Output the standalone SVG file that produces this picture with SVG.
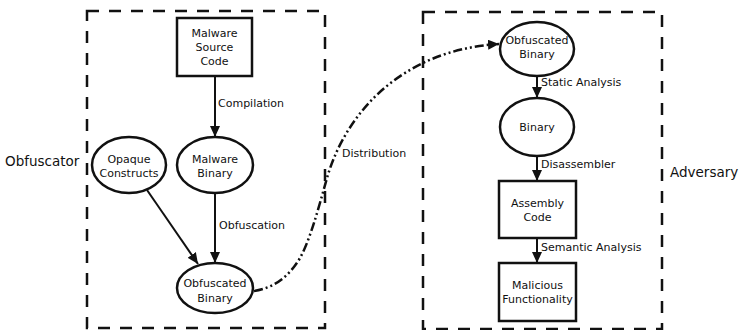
<svg xmlns="http://www.w3.org/2000/svg" width="739" height="330" viewBox="0 0 739 330">
<style>
text{font-family:"DejaVu Sans","Liberation Sans",sans-serif;font-size:11px;fill:#111}
.big{font-size:13.5px}
.mid{text-anchor:middle}
.node{fill:#fff;stroke:#111;stroke-width:2.5}
.frame{fill:none;stroke:#111;stroke-width:2.5;stroke-dasharray:12,10}
.edge{fill:none;stroke:#111;stroke-width:2;marker-end:url(#ah)}
.dist{fill:none;stroke:#111;stroke-width:2.5;stroke-dasharray:9,3,2,3,2,3;marker-end:url(#ah)}
</style>
<defs>
<marker id="ah" markerUnits="userSpaceOnUse" markerWidth="12" markerHeight="10" refX="11" refY="5" orient="auto">
<path d="M0,0 L11,5 L0,10 Z" fill="#111"/>
</marker>
</defs>
<g id="obfuscator-frame">
<rect class="frame" x="87" y="11" width="238" height="317"/>
<text class="big" x="5" y="166">Obfuscator</text>
</g>
<g id="adversary-frame">
<rect class="frame" x="423" y="12" width="239" height="317"/>
<text class="big" x="670" y="177">Adversary</text>
</g>
<g id="connectors">
<path class="edge" d="M215,77 L215,137"/>
<text x="218" y="107">Compilation</text>
<path class="edge" d="M215,194 L215,263"/>
<text x="219" y="229">Obfuscation</text>
<path class="edge" d="M147,190 L198,264"/>
<path class="dist" d="M254,291 C275,288 290,275 300,258 C310,240 318,210 327,178 C345,115 400,50 499,44"/>
<text x="342" y="157">Distribution</text>
<path class="edge" d="M537,77 L537,98"/>
<text x="541" y="86">Static Analysis</text>
<path class="edge" d="M537,157 L537,181"/>
<text x="541" y="168">Disassembler</text>
<path class="edge" d="M537,238 L537,263"/>
<text x="541" y="251">Semantic Analysis</text>
</g>
<g id="malware-source-code">
<rect class="node" x="177" y="18" width="75" height="58"/>
<text class="mid" x="214.5" y="37">Malware</text>
<text class="mid" x="214.5" y="51">Source</text>
<text class="mid" x="214.5" y="65">Code</text>
</g>
<g id="opaque-constructs">
<ellipse class="node" cx="129" cy="165" rx="37" ry="28"/>
<text class="mid" x="129" y="163">Opaque</text>
<text class="mid" x="129" y="177">Constructs</text>
</g>
<g id="malware-binary">
<ellipse class="node" cx="215" cy="165" rx="38" ry="28"/>
<text class="mid" x="215" y="163">Malware</text>
<text class="mid" x="215" y="177">Binary</text>
</g>
<g id="obfuscated-binary-left">
<ellipse class="node" cx="215" cy="288" rx="38" ry="25"/>
<text class="mid" x="215" y="287">Obfuscated</text>
<text class="mid" x="215" y="302">Binary</text>
</g>
<g id="obfuscated-binary-right">
<ellipse class="node" cx="537" cy="49" rx="37" ry="27"/>
<text class="mid" x="537" y="44">Obfuscated</text>
<text class="mid" x="537" y="58">Binary</text>
</g>
<g id="binary">
<ellipse class="node" cx="537" cy="127" rx="37" ry="29"/>
<text class="mid" x="537" y="131">Binary</text>
</g>
<g id="assembly-code">
<rect class="node" x="499" y="181" width="77" height="57"/>
<text class="mid" x="537.5" y="207">Assembly</text>
<text class="mid" x="537.5" y="221">Code</text>
</g>
<g id="malicious-functionality">
<rect class="node" x="499" y="263" width="77" height="58"/>
<text class="mid" x="537.5" y="289">Malicious</text>
<text class="mid" x="537.5" y="303">Functionality</text>
</g>
</svg>
